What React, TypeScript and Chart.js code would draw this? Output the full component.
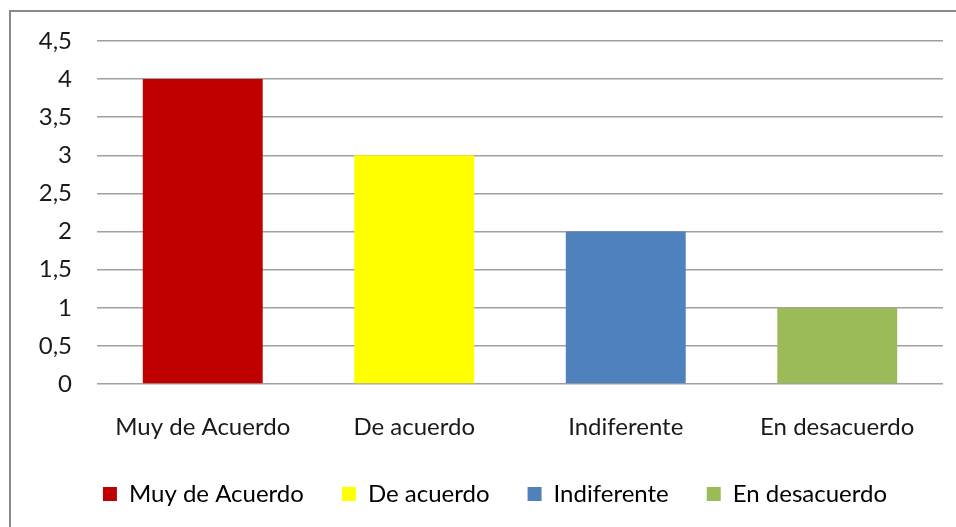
import React, { useEffect, useRef } from "react";
import { Chart, registerables } from "chart.js";

Chart.register(...registerables);

const categories = ["Muy de Acuerdo", "De acuerdo", "Indiferente", "En desacuerdo"];
const values = [4, 3, 2, 1];
const barColors = ["#C00000", "#FFFF00", "#4F81BD", "#9BBB59"];
const yTicks = [0, 0.5, 1, 1.5, 2, 2.5, 3, 3.5, 4, 4.5];

const FONT = "Lato, 'Open Sans', sans-serif";
const FS = 24;

const shiftLegend = {
  id: "shiftLegend",
  afterLayout(chart: any) {
    if (chart.legend) {
      chart.legend.left += 36;
    }
  },
};

export default function App() {
  const ref = useRef<HTMLCanvasElement | null>(null);

  useEffect(() => {
    document.body.style.overflow = "hidden";
    const canvas = ref.current;
    if (!canvas) return;
    const chart = new Chart(canvas, {
      type: "bar",
      data: {
        labels: categories,
        datasets: [
          {
            label: "Serie",
            data: values,
            backgroundColor: barColors,
            borderWidth: 0,
            categoryPercentage: 1,
            barPercentage: 0.567,
          },
        ],
      },
      plugins: [shiftLegend],
      options: {
        responsive: false,
        animation: false,
        layout: { padding: { left: 0, right: 13, top: 0, bottom: 11 } },
        plugins: {
          tooltip: { enabled: false },
          legend: {
            position: "bottom",
            labels: {
              padding: 38,
              boxWidth: 14,
              boxHeight: 14,
              color: "#1a1a1a",
              font: { family: FONT, size: FS },
              generateLabels: () =>
                categories.map((c, i) => ({
                  text: c,
                  fillStyle: barColors[i],
                  strokeStyle: barColors[i],
                  lineWidth: 0,
                  hidden: false,
                  index: i,
                  datasetIndex: 0,
                })),
            },
          },
        },
        scales: {
          x: {
            border: { display: false },
            grid: { display: false, drawTicks: false },
            ticks: {
              padding: 29,
              color: "#1a1a1a",
              font: { family: FONT, size: FS },
              maxRotation: 0,
            },
            afterFit: (s: any) => {
              s.height = 60;
            },
          },
          y: {
            min: 0,
            max: 4.5,
            border: { display: false },
            grid: { color: "#a0a0a0", lineWidth: 1.5, drawTicks: false },
            afterBuildTicks: (s: any) => {
              s.ticks = yTicks.map((v) => ({ value: v }));
            },
            afterFit: (s: any) => {
              s.width = 86;
              s.paddingTop = 29;
              s.paddingBottom = 0;
            },
            ticks: {
              padding: 25,
              color: "#1a1a1a",
              font: { family: FONT, size: FS },
              callback: (v: any) => String(v).replace(".", ","),
            },
          },
        },
      },
    });
    return () => chart.destroy();
  }, []);

  return (
    <div
      style={{
        position: "absolute",
        left: 9,
        top: 10,
        width: 960,
        height: 540,
        border: "2px solid #8a8a8a",
        background: "#fff",
      }}
    >
      <canvas ref={ref} width={945} height={515} style={{ display: "block" }} />
    </div>
  );
}
